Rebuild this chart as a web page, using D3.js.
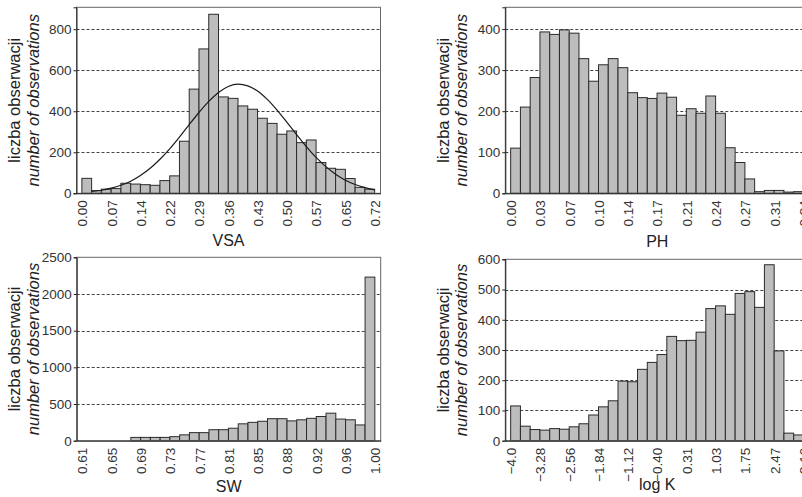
<!DOCTYPE html>
<html>
<head>
<meta charset="utf-8">
<script src="https://cdn.jsdelivr.net/npm/d3@7"></script>
<style>
  html, body { margin: 0; padding: 0; background: #fff; }
  svg { display: block; font-family: "Liberation Sans", Arial, sans-serif; }
</style>
</head>
<body>
<svg id="chart" width="802" height="497"></svg>
<script>
// ---------- data ----------
const vsaCounts = [73,13,20,23,49,45,42,39,62,85,254,508,704,873,470,463,426,410,366,341,288,304,247,260,150,122,117,72,29,20];
const vsaCurve  = [9,15,25,39,59,87,122,166,217,274,335,394,448,492,521,532,524,499,458,406,347,286,228,175,130,93,64,43,28,17];
const vsaTicks  = ["0.00","0.07","0.14","0.22","0.29","0.36","0.43","0.50","0.57","0.65","0.72"];
const vsaYTicks = [0,200,400,600,800];

const phCounts  = [110,210,282,393,387,398,390,328,273,313,328,306,245,233,231,244,234,190,206,195,237,195,111,75,35,4,7,7,3,4];
const phTicks   = ["0.00","0.03","0.07","0.10","0.14","0.17","0.21","0.24","0.27","0.31","0.34"];
const phYTicks  = [0,100,200,300,400];

const swCounts  = [0,0,0,0,0,45,45,45,45,55,80,110,110,150,150,170,230,250,265,300,300,270,285,305,330,375,295,285,215,2230];
const swTicks   = ["0.61","0.65","0.69","0.73","0.77","0.81","0.85","0.88","0.92","0.96","1.00"];
const swYTicks  = [0,500,1000,1500,2000,2500];

const logkCounts = [115,48,37,35,40,38,46,56,85,112,132,197,195,236,259,285,345,331,332,359,437,446,418,487,493,441,582,297,25,19];
const logkTicks  = ["\u22124.0","\u22123.28","\u22122.56","\u22121.84","\u22121.12","\u22120.40","0.31","1.03","1.75","2.47","3.19"];
const logkYTicks = [0,100,200,300,400,500,600];

const yAxisLine1 = "liczba obserwacji";
const yAxisLine2 = "number of observations";

// ---------- panels ----------
const panels = [
  { counts: vsaCounts,  ticks: vsaTicks,  yTicks: vsaYTicks,  yMax: 907,  label: "VSA",   curve: vsaCurve,
    left: 76.5,  top: 7.3,   bottom: 193.3, labelY: 245.5 },
  { counts: phCounts,   ticks: phTicks,   yTicks: phYTicks,   yMax: 453,  label: "PH",
    left: 505.3, top: 7.3,   bottom: 193.3, labelY: 246.5 },
  { counts: swCounts,   ticks: swTicks,   yTicks: swYTicks,   yMax: 2500, label: "SW",
    left: 76.7,  top: 257.3, bottom: 440.7, labelY: 491.5 },
  { counts: logkCounts, ticks: logkTicks, yTicks: logkYTicks, yMax: 600,  label: "log K",
    left: 505.3, top: 259.3, bottom: 440.7, labelY: 490 }
];

const svg = d3.select("#chart");
const frameW = 304;

panels.forEach(p => {
  const n = p.counts.length;
  const x = d3.scaleLinear().domain([-0.55, n + 0.6]).range([p.left, p.left + frameW]);
  const y = d3.scaleLinear().domain([0, p.yMax]).range([p.bottom, p.top]);
  const g = svg.append("g");

  // dashed grid
  g.selectAll("line.grid")
    .data(p.yTicks.filter(t => t > 0 && t < p.yMax))
    .join("line")
    .attr("x1", x.range()[0]).attr("x2", x.range()[1])
    .attr("y1", d => Math.round(y(d)) + 0.5).attr("y2", d => Math.round(y(d)) + 0.5)
    .attr("stroke", "#444").attr("stroke-width", 1)
    .attr("stroke-dasharray", "3,2");

  // bars
  g.selectAll("rect.bar")
    .data(p.counts)
    .join("rect")
    .attr("x", (d, i) => x(i))
    .attr("width", (d, i) => x(i + 1) - x(i))
    .attr("y", d => y(d))
    .attr("height", d => y(0) - y(d))
    .attr("fill", "#bdbdbd")
    .attr("stroke", "#2b2b2b")
    .attr("stroke-width", 1);

  // fitted curve
  if (p.curve) {
    const line = d3.line()
      .x((d, i) => x(i + 1))
      .y(d => y(d))
      .curve(d3.curveMonotoneX);
    g.append("path")
      .datum(p.curve)
      .attr("d", line)
      .attr("fill", "none")
      .attr("stroke", "#1a1a1a")
      .attr("stroke-width", 1.2);
  }

  // frame
  g.append("rect")
    .attr("x", x.range()[0]).attr("y", p.top)
    .attr("width", frameW).attr("height", p.bottom - p.top)
    .attr("fill", "none").attr("stroke", "#666").attr("stroke-width", 1);

  // y axis
  const yAxis = d3.axisLeft(y).tickValues(p.yTicks).tickSize(3).tickPadding(2).tickFormat(d3.format("d"));
  const ya = g.append("g").attr("transform", `translate(${x.range()[0]},0)`).call(yAxis);
  ya.select(".domain").attr("stroke", "#222");
  ya.selectAll(".tick line").attr("stroke", "#222");
  ya.selectAll("text").attr("font-size", 13.5).attr("fill", "#333")
    .attr("font-family", "Liberation Sans, Arial, sans-serif");

  // x axis (bin edges every 3 bars)
  const tickIdx = p.ticks.map((t, i) => i * 3);
  const xAxis = d3.axisBottom(x).tickValues(tickIdx).tickSize(0).tickFormat((d, i) => p.ticks[i]);
  const xa = g.append("g").attr("transform", `translate(0,${p.bottom})`).call(xAxis);
  xa.select(".domain").attr("stroke", "#222");
  xa.selectAll("text")
    .attr("font-size", 13.5).attr("fill", "#333")
    .attr("font-family", "Liberation Sans, Arial, sans-serif")
    .attr("text-anchor", "end")
    .attr("transform", "rotate(-90)")
    .attr("x", -7).attr("y", 0).attr("dy", "0.36em");

  // x label
  g.append("text")
    .attr("x", p.left + frameW / 2).attr("y", p.labelY)
    .attr("text-anchor", "middle").attr("font-size", 16).attr("fill", "#222")
    .text(p.label);

  // y label (two lines)
  const cy = (p.top + p.bottom) / 2;
  g.append("text")
    .attr("transform", `translate(${p.left - 56.5},${cy}) rotate(-90)`)
    .attr("text-anchor", "middle").attr("font-size", 16.5).attr("fill", "#222")
    .text(yAxisLine1);
  g.append("text")
    .attr("transform", `translate(${p.left - 38},${cy}) rotate(-90)`)
    .attr("text-anchor", "middle").attr("font-size", 16.5).attr("fill", "#222")
    .attr("font-style", "italic")
    .text(yAxisLine2);
});
</script>
</body>
</html>
